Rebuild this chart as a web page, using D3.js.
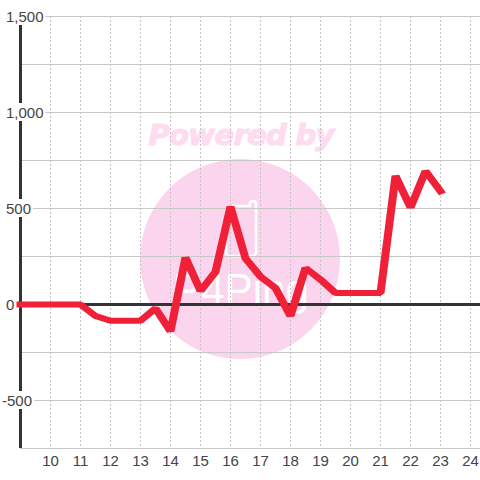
<!DOCTYPE html>
<html><head><meta charset="utf-8">
<script src="https://cdn.jsdelivr.net/npm/d3@7/dist/d3.min.js"></script>
<style>html,body{margin:0;padding:0;background:#fff}svg{display:block}</style>
</head><body>
<svg id="c" width="480" height="480"></svg>
<script>
const hours=[9,9.5,10,10.5,11,11.5,12,12.5,13,13.5,14,14.5,15,15.5,16,16.5,17,17.5,18,18.5,19,19.5,20,20.5,21,21.5,22,22.5,23];
const values=[0,0,0,0,0,-60,-85,-85,-85,-20,-140,245,70,170,510,240,145,85,-60,190,130,60,60,60,60,670,505,695,590];
const xTicks=[10,11,12,13,14,15,16,17,18,19,20,21,22,23,24];
const yLabelTicks=[1500,1000,500,0,-500];
const yGridTicks=[1500,1250,1000,750,500,250,-250,-500,-750];
const logoText="P4Ping";

const svg=d3.select("#c");
const x=d3.scaleLinear().domain([9,24]).range([20.5,470.5]);
const y=d3.scaleLinear().domain([1500,-750]).range([16.5,448.5]);
const pink="#fbd5ee";
const pinkText="#fddcf2";

// watermark
svg.append("circle").attr("cx",240).attr("cy",259).attr("r",100).attr("fill",pink);
svg.append("text").attr("x",241.5).attr("y",145).attr("text-anchor","middle")
  .attr("font-family","DejaVu Sans").attr("font-weight","bold").attr("font-style","italic")
  .attr("font-size",29).attr("fill",pinkText).attr("stroke",pinkText).attr("stroke-width",1.2)
  .attr("textLength",186).text("Powered by");
svg.append("path")
  .attr("d","M226 236V252Q226 256 230 256H252Q256 256 256 252V204Q256 201 253 201Q250 201 250 204V206H232")
  .attr("fill","none").attr("stroke","#fff").attr("stroke-width",2.5);
svg.append("text").attr("x",173).attr("y",305)
  .attr("font-family","Liberation Sans").attr("font-size",44).attr("fill","#fff")
  .attr("textLength",136).attr("lengthAdjust","spacingAndGlyphs")
  .text(logoText);

// grid
svg.append("g").selectAll("line").data(xTicks).join("line")
  .attr("x1",d=>x(d)).attr("x2",d=>x(d)).attr("y1",16).attr("y2",448)
  .attr("stroke","#c4c4c4").attr("stroke-dasharray","2,2");
svg.append("g").selectAll("line").data(yGridTicks).join("line")
  .attr("x1",20).attr("x2",480).attr("y1",d=>y(d)).attr("y2",d=>y(d))
  .attr("stroke","#c8c8c8");

// axis lines
svg.append("line").attr("x1",x(9)).attr("x2",x(9)).attr("y1",16).attr("y2",448)
  .attr("stroke","#333").attr("stroke-width",3);
svg.append("line").attr("x1",20).attr("x2",480).attr("y1",y(0)).attr("y2",y(0))
  .attr("stroke","#333").attr("stroke-width",3);

// y labels with background
const fmt=d3.format(",");
const yl=svg.append("g").selectAll("g").data(yLabelTicks).join("g");
yl.append("text").attr("x",d=>d<0?2:6).attr("y",d=>y(d)+5.5)
  .attr("font-family","Liberation Sans").attr("font-size",15).attr("fill","#444")
  .text(d=>fmt(d).replace("\u2212","-"));
yl.each(function(){
  const g=d3.select(this), b=g.select("text").node().getBBox();
  g.insert("rect","text").attr("x",b.x-2).attr("y",b.y-1).attr("width",b.width+4).attr("height",b.height+1).attr("fill","#fff");
});

// x labels
svg.append("g").selectAll("text").data(xTicks).join("text")
  .attr("x",d=>x(d)).attr("y",466).attr("text-anchor","middle")
  .attr("font-family","Liberation Sans").attr("font-size",15).attr("fill","#444").text(d=>d);

// series: the pen is wider horizontally than vertically, so stroke in a stretched space
const sx=4/3;
const line=d3.line().x((d,i)=>x(hours[i])/sx).y(d=>y(d));
svg.append("path").datum(values).attr("d",line).attr("fill","none").attr("transform",`scale(${sx},1)`)
  .attr("stroke","#f02038").attr("stroke-width",6).attr("stroke-linecap","square").attr("stroke-linejoin","bevel");
</script>
</body></html>
